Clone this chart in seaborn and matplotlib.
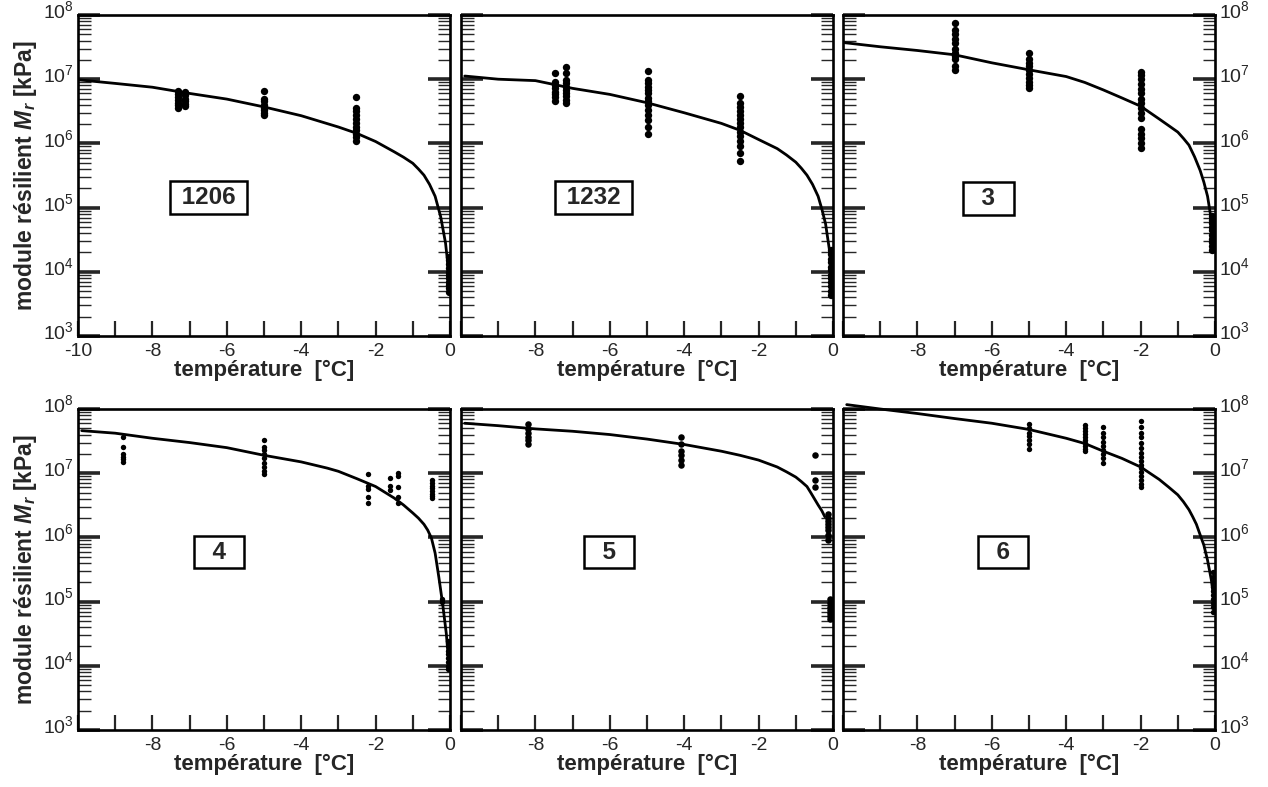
import matplotlib
matplotlib.use('agg')

import pandas as pd
import seaborn as sns
import matplotlib.pyplot as plt
import matplotlib.transforms as mtransforms
from matplotlib.ticker import FixedLocator, LogLocator, NullFormatter


sns.set_style('ticks')
plt.rcParams['font.family'] = ['Liberation Sans', 'DejaVu Sans']
plt.rcParams['mathtext.fontset'] = 'custom'
plt.rcParams['mathtext.rm'] = 'Liberation Sans'
plt.rcParams['mathtext.it'] = 'Liberation Sans:italic'
plt.rcParams['mathtext.bf'] = 'Liberation Sans:bold'
plt.rcParams['mathtext.bfit'] = 'Liberation Sans:italic:bold'

# ---- sol 1206 ----
pts_1206_t = [-7.3, -7.12, -5.0, -2.52, -0.04]
pts_1206_m = [[6.5e6, 5.8e6, 5.2e6, 4.7e6, 4.3e6, 3.9e6, 3.6e6],
              [6.3e6, 5.6e6, 5.0e6, 4.5e6, 4.1e6, 3.8e6],
              [6.5e6, 5.0e6, 4.5e6, 4.0e6, 3.6e6, 3.3e6, 3.0e6, 2.8e6],
              [5.3e6, 3.6e6, 3.2e6, 2.8e6, 2.4e6, 2.1e6, 1.8e6, 1.6e6, 1.4e6, 1.25e6, 1.1e6],
              [1.7e4, 1.5e4, 1.3e4, 1.15e4, 1.0e4, 9e3, 8e3, 7e3, 6.2e3, 5.5e3, 4.8e3]]
curve_1206_t = [-10, -9, -8, -7, -6, -5, -4, -3, -2.5, -2, -1.5, -1.25, -1, -0.85, -0.7, -0.55,
                -0.4, -0.25, -0.12, -0.05, -0.02]
curve_1206_m = [9.8e6, 8.6e6, 7.5e6, 6.0e6, 4.9e6, 3.7e6, 2.7e6, 1.8e6, 1.43e6, 1.07e6, 7.4e5, 6.1e5,
                4.9e5, 4.0e5, 3.2e5, 2.3e5, 1.5e5, 7.2e4, 2.8e4, 1.2e4, 7.4e3]

# ---- sol 1232 ----
pts_1232_t = [-7.46, -7.19, -4.98, -2.51, -0.06]
pts_1232_m = [[1.24e7, 9e6, 8e6, 7.2e6, 6.4e6, 5.8e6, 5.2e6, 4.6e6],
              [1.55e7, 1.25e7, 9.8e6, 8.6e6, 7.6e6, 6.8e6, 6e6, 5.4e6, 4.8e6, 4.2e6],
              [1.35e7, 9.7e6, 8.6e6, 7.5e6, 6.7e6, 6e6, 5.1e6, 4.5e6, 3.9e6, 3.3e6, 2.8e6, 2.3e6, 1.8e6, 1.4e6],
              [5.5e6, 4.2e6, 3.7e6, 3.2e6, 2.8e6, 2.4e6, 2.1e6, 1.8e6, 1.5e6, 1.3e6, 1.1e6, 9e5, 7e5, 5.4e5],
              [2.2e4, 1.9e4, 1.6e4, 1.4e4, 1.2e4, 1.05e4, 9e3, 8e3, 7e3, 6e3, 5e3, 4.4e3]]
curve_1232_t = [-9.9, -9, -8, -7, -6, -5, -4, -3, -2.5, -2, -1.5, -1.25, -1, -0.85, -0.7, -0.55,
                -0.4, -0.3, -0.2, -0.08, -0.03]
curve_1232_m = [1.12e7, 1.0e7, 9.5e6, 7.2e6, 5.8e6, 4.3e6, 3.0e6, 2.05e6, 1.6e6, 1.15e6, 8.3e5, 6.6e5,
                5.1e5, 4.1e5, 3.2e5, 2.3e5, 1.5e5, 9.5e4, 5.6e4, 1.9e4, 8.3e3]

# ---- sol 3 ----
pts_3_t = [-7.0, -5.0, -2.0, -0.07]
pts_3_m = [[7.6e7, 5.8e7, 5e7, 4.3e7, 3.6e7, 3e7, 2.6e7, 2.3e7, 2.1e7, 1.6e7, 1.4e7],
           [2.6e7, 2.1e7, 1.8e7, 1.6e7, 1.4e7, 1.2e7, 1.05e7, 9.2e6, 8.2e6, 7.2e6],
           [1.3e7, 1.15e7, 1e7, 8.5e6, 7e6, 6e6, 5e6, 4.3e6, 3.5e6, 3e6, 2.5e6, 1.7e6, 1.4e6, 1.2e6, 1e6, 8.5e5],
           [7.5e4, 6.5e4, 5.7e4, 5e4, 4.4e4, 3.8e4, 3.3e4, 2.9e4, 2.5e4, 2.2e4]]
curve_3_t = [-9.95, -9, -8, -7, -6, -5, -4, -3.5, -3, -2.5, -2, -1.5, -1.25, -1, -0.85, -0.7, -0.55,
             -0.4, -0.3, -0.2, -0.1, -0.06]
curve_3_m = [3.7e7, 3.2e7, 2.8e7, 2.4e7, 1.8e7, 1.4e7, 1.1e7, 8.9e6, 6.8e6, 5.1e6, 3.8e6, 2.4e6, 1.9e6,
             1.5e6, 1.2e6, 9.4e5, 6.2e5, 3.8e5, 2.5e5, 1.5e5, 6.5e4, 4e4]

# ---- sol 4 ----
pts_4_t = [-8.8, -5.0, -2.2, -1.62, -1.39, -0.49, -0.22, -0.05]
pts_4_m = [[3.7e7, 2.6e7, 2.0e7, 1.8e7, 1.65e7, 1.5e7],
           [3.3e7, 2.6e7, 2.3e7, 2e7, 1.7e7, 1.45e7, 1.25e7, 1.1e7, 9.8e6],
           [9.8e6, 6.3e6, 5.6e6, 4.3e6, 3.4e6],
           [8.3e6, 6.3e6, 5.5e6],
           [1.0e7, 9e6, 6.2e6, 4.3e6, 3.4e6],
           [7.7e6, 7e6, 6.4e6, 5.8e6, 5.3e6, 4.8e6, 4.4e6, 4.1e6],
           [1.08e5, 1.0e5],
           [2.4e4, 2e4, 1.7e4, 1.5e4, 1.3e4, 1.15e4, 1.0e4, 9e3]]
curve_4_t = [-9.9, -9, -8, -7, -6, -5, -4, -3.3, -3, -2.5, -2, -1.5, -1.25, -1, -0.85, -0.7, -0.6,
             -0.5, -0.4, -0.3, -0.2, -0.1, -0.02]
curve_4_m = [4.6e7, 4.2e7, 3.5e7, 3.0e7, 2.5e7, 1.9e7, 1.5e7, 1.2e7, 1.07e7, 8.2e6, 6.2e6, 4.1e6, 3.2e6,
             2.4e6, 2.0e6, 1.6e6, 1.3e6, 9.8e5, 5.7e5, 2.4e5, 9.4e4, 3.2e4, 9e3]

# ---- sol 5 ----
pts_5_t = [-8.2, -4.09, -0.49, -0.13, -0.08]
pts_5_m = [[5.8e7, 4.9e7, 4.3e7, 3.7e7, 3.3e7, 2.8e7],
           [3.6e7, 2.8e7, 2.2e7, 1.95e7, 1.6e7, 1.35e7],
           [1.9e7, 7.9e6, 6.2e6],
           [2.3e6, 2.0e6, 1.8e6, 1.6e6, 1.45e6, 1.3e6, 1.1e6, 9e5],
           [1.1e5, 9.5e4, 8.3e4, 7.5e4, 6.7e4, 6e4, 5.3e4]]
curve_5_t = [-9.9, -9, -8, -7, -6, -5, -4, -3, -2.5, -2, -1.5, -1.25, -1, -0.85, -0.7, -0.6, -0.5,
             -0.4, -0.3, -0.22]
curve_5_m = [6.0e7, 5.5e7, 4.9e7, 4.5e7, 4.0e7, 3.4e7, 2.8e7, 2.2e7, 1.9e7, 1.6e7, 1.25e7, 1.05e7,
             8.7e6, 7.4e6, 6.2e6, 5.0e6, 4.0e6, 3.2e6, 2.6e6, 2.1e6]

# ---- sol 6 ----
pts_6_t = [-5.0, -3.5, -3.01, -2.0, -0.06]
pts_6_m = [[5.9e7, 5e7, 4.3e7, 3.8e7, 3.3e7, 2.9e7, 2.4e7],
           [5.7e7, 5.1e7, 4.6e7, 4.1e7, 3.7e7, 3.3e7, 3e7, 2.7e7, 2.4e7, 2.2e7],
           [5.2e7, 4.3e7, 3.6e7, 3.1e7, 2.7e7, 2.3e7, 2e7, 1.7e7, 1.45e7],
           [6.6e7, 5.2e7, 4.3e7, 3.6e7, 3e7, 2.5e7, 2.1e7, 1.8e7, 1.55e7, 1.35e7, 1.2e7, 1.05e7, 9e6,
            7.8e6, 6.8e6, 6e6],
           [2.9e5, 2.4e5, 2e5, 1.7e5, 1.45e5, 1.25e5, 1.1e5, 9.5e4, 8.2e4, 7e4]]
curve_6_t = [-9.9, -9, -8, -7, -6, -5, -4, -3.5, -3, -2.5, -2, -1.5, -1.25, -1, -0.85, -0.7, -0.6,
             -0.5, -0.4, -0.3, -0.2, -0.1, -0.04]
curve_6_m = [1.17e8, 1.0e8, 8.5e7, 7.1e7, 6.0e7, 4.8e7, 3.5e7, 2.9e7, 2.2e7, 1.7e7, 1.25e7, 8e6, 6.1e6,
             4.6e6, 3.6e6, 2.7e6, 2.1e6, 1.6e6, 1.1e6, 7.6e5, 4.4e5, 2.2e5, 1.2e5]

labels = ['1206', '1232', '3', '4', '5', '6']
label_t = [-6.5, -6.43, -6.09, -6.2, -6.02, -5.69]
label_m = [1.45e5, 1.45e5, 1.4e5, 5.9e5, 5.9e5, 5.9e5]
decades = [3, 4, 5, 6, 7, 8]

panels = [(pts_1206_t, pts_1206_m, curve_1206_t, curve_1206_m),
          (pts_1232_t, pts_1232_m, curve_1232_t, curve_1232_m),
          (pts_3_t, pts_3_m, curve_3_t, curve_3_m),
          (pts_4_t, pts_4_m, curve_4_t, curve_4_m),
          (pts_5_t, pts_5_m, curve_5_t, curve_5_m),
          (pts_6_t, pts_6_m, curve_6_t, curve_6_m)]

dot_size = [28, 28, 28, 15, 22, 15]

lefts = [78, 461, 843]
tops = [15, 409]
W, H = 1268, 787

fig = plt.figure(figsize=(12.68, 7.87), dpi=100)
# y tick labels sit a little above their tick, as in the original
lift = mtransforms.ScaledTranslation(0, 4 / 72, fig.dpi_scale_trans)
axes = []

for i, (pt_t, pt_m, cv_t, cv_m) in enumerate(panels):
    row, col = divmod(i, 3)
    rect = [lefts[col] / W, 1 - (tops[row] + 321) / H, 372 / W, 321 / H]
    ax = fig.add_axes(rect)
    axes.append(ax)

    pts = pd.DataFrame([(t, m) for t, ms in zip(pt_t, pt_m) for m in ms], columns=['t', 'm'])
    cv = pd.DataFrame({'t': cv_t, 'm': cv_m})

    sns.lineplot(data=cv, x='t', y='m', sort=False, estimator=None, color='black', lw=2.0, ax=ax)
    if i == 5:
        ax.lines[-1].set_clip_on(False)
    sns.scatterplot(data=pts, x='t', y='m', color='black', s=dot_size[i], linewidth=0, ax=ax, zorder=3)

    ax.set_yscale('log')
    ax.set_xlim(-10, 0)
    ax.set_ylim(1e3, 1e8)

    # the boxed sample name; single digits get a wider margin like the original
    gap = '  ' if len(labels[i]) == 1 else ' '
    ax.text(label_t[i], label_m[i], gap + labels[i] + gap, ha='center', va='center',
            fontsize=17.5, fontweight='bold',
            bbox=dict(boxstyle='square,pad=0.2', fc='white', ec='black', lw=1.8))

    # x ticks
    ax.xaxis.set_major_locator(FixedLocator(range(-10, 1)))
    xl = []
    for v in range(-10, 1):
        if v % 2 == 0 and (v != -10 or i == 0):
            xl.append(str(v))
        else:
            xl.append('')
    ax.set_xticklabels(xl)
    ax.tick_params(axis='x', which='major', direction='in', length=11, width=1.6,
                   top=False, bottom=True, labelsize=14, pad=5)
    ax.tick_params(axis='x', which='minor', bottom=False, top=False)

    # y ticks
    ax.yaxis.set_major_locator(FixedLocator([10.0 ** d for d in decades]))
    ax.set_yticklabels([r'$\mathregular{10^{%d}}$' % d for d in decades])
    ax.yaxis.set_minor_locator(LogLocator(base=10, subs=range(2, 10), numticks=20))
    ax.yaxis.set_minor_formatter(NullFormatter())
    ax.tick_params(axis='y', which='major', direction='in', length=16, width=2.6,
                   left=True, right=True, labelleft=(col == 0), labelright=(col == 2),
                   labelsize=14, pad=3)
    ax.tick_params(axis='y', which='minor', direction='in', length=9, width=1.0,
                   left=True, right=True)

    for sp in ax.spines.values():
        sp.set_linewidth(1.9)
        sp.set_color('black')

    ax.set_xlabel('température  [°C]', fontsize=16, fontweight='bold', labelpad=0)
    if col == 0:
        ax.set_ylabel(r'module résilient $\mathbfit{M}_{\mathbfit{r}}$ [kPa]',
                      fontsize=16.5, fontweight='bold', labelpad=3)
    else:
        ax.set_ylabel('')

for ax in axes:
    for t in ax.yaxis.get_major_ticks():
        t.label1.set_transform(t.label1.get_transform() + lift)
        t.label2.set_transform(t.label2.get_transform() + lift)

fig.savefig('out.png', dpi=100)
